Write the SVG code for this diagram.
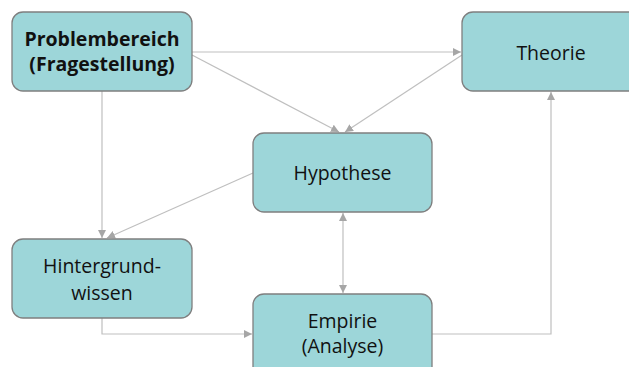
<svg xmlns="http://www.w3.org/2000/svg" width="629" height="367" viewBox="0 0 629 367">
<defs>
<marker id="ah" viewBox="0 0 10 10" refX="10" refY="5" markerWidth="8" markerHeight="8" markerUnits="userSpaceOnUse" orient="auto-start-reverse">
<path d="M0,0 L10,5 L0,10 z" fill="#a6a6a6"/>
</marker>
<style>
.box{fill:#9dd6d9;stroke:#7f7f7f;stroke-width:1.3}
.t{font-family:"Open Sans","Liberation Sans",sans-serif;font-size:19.5px;fill:#111;text-anchor:middle}
.b{font-weight:bold}
.c{fill:none;stroke:#bfbfbf;stroke-width:1.2}
</style>
</defs>
<rect width="629" height="367" fill="#fff"/>
<g id="connectors">
<line class="c" x1="192" y1="52" x2="461" y2="52" marker-end="url(#ah)"/>
<line class="c" x1="192" y1="55" x2="339" y2="132" marker-end="url(#ah)"/>
<line class="c" x1="462" y1="55" x2="345" y2="132" marker-end="url(#ah)"/>
<line class="c" x1="102" y1="91" x2="102" y2="238" marker-end="url(#ah)"/>
<line class="c" x1="253" y1="173" x2="107" y2="238" marker-end="url(#ah)"/>
<polyline class="c" points="102,318 102,334 252,334" marker-end="url(#ah)"/>
<line class="c" x1="343" y1="213" x2="343" y2="293" marker-start="url(#ah)" marker-end="url(#ah)"/>
<polyline class="c" points="432,334 551,334 551,92" marker-end="url(#ah)"/>
</g>
<g id="problembereich">
<rect class="box" x="12" y="12" width="180" height="79" rx="11"/>
<text class="t b" x="102" y="46">Problembereich</text>
<text class="t b" x="102" y="71">(Fragestellung)</text>
</g>
<g id="theorie">
<rect class="box" x="462" y="12" width="190" height="79" rx="11"/>
<text class="t" x="551" y="60">Theorie</text>
</g>
<g id="hypothese">
<rect class="box" x="253" y="133" width="179" height="79" rx="11"/>
<text class="t" x="342.5" y="180">Hypothese</text>
</g>
<g id="hintergrundwissen">
<rect class="box" x="12" y="239" width="180" height="79" rx="11"/>
<text class="t" x="102" y="273">Hintergrund-</text>
<text class="t" x="102" y="300">wissen</text>
</g>
<g id="empirie">
<rect class="box" x="253" y="294" width="179" height="85" rx="11"/>
<text class="t" x="342.5" y="328">Empirie</text>
<text class="t" x="342.5" y="353">(Analyse)</text>
</g>
</svg>
